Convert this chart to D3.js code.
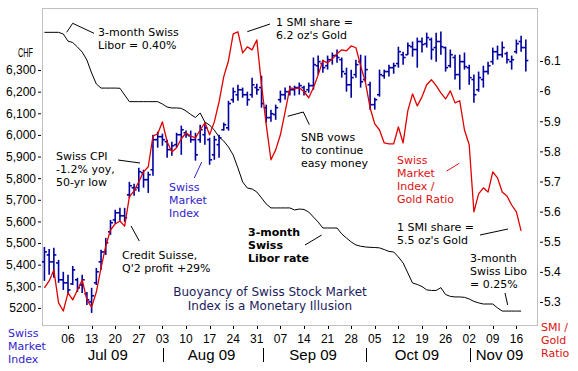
<!DOCTYPE html>
<html>
<head>
<meta charset="utf-8">
<script src="https://cdn.jsdelivr.net/npm/d3@7"></script>
<style>
  body { margin: 0; background: #fff; }
  svg { display: block; font-family: "DejaVu Sans", Verdana, sans-serif; }
</style>
</head>
<body>
<div id="chart"></div>
<script>
// trading days start on Mon 29 Jun 2009, weekends skipped
var firstDay = new Date(2009, 5, 29);
var lastDay = new Date(2009, 10, 18);

// Swiss Market Index, daily bars (CHF)
var smiOpen = [5413,5445,5413,5408,5330,5316,5311,5330,5306,5265,5228,5316,5413,5459,5552,5607,5640,5626,5723,5756,
  5756,5825,5793,5839,5978,5992,5969,5932,5955,6001,6010,5996,5978,5978,6001,5978,5908,5955,6024,6033,
  6163,6186,6209,6186,6186,6219,6219,6126,6080,6094,6163,6186,6200,6209,6219,6219,6209,6228,6320,6330,
  6320,6348,6367,6348,6283,6232,6279,6339,6256,6232,6140,6186,6274,6293,6311,6330,6371,6371,6408,6395,
  6432,6422,6441,6404,6432,6404,6320,6358,6279,6339,6311,6256,6209,6256,6293,6339,6385,6371,6376,6339,
  6385,6432,6404];
var smiHigh = [5482,5473,5478,5422,5367,5353,5394,5339,5353,5274,5293,5385,5469,5524,5607,5654,5663,5663,5783,5774,
  5848,5839,5830,6001,6015,6006,5978,5969,6010,6043,6020,6020,6010,6047,6057,5987,5996,6001,6057,6158,
  6219,6232,6219,6200,6265,6237,6274,6140,6117,6140,6205,6219,6228,6228,6242,6228,6242,6358,6367,6348,
  6367,6381,6395,6358,6311,6302,6348,6371,6367,6246,6172,6302,6302,6325,6334,6408,6385,6427,6432,6450,
  6450,6473,6450,6473,6478,6408,6395,6371,6371,6381,6325,6279,6293,6320,6339,6404,6413,6432,6385,6367,
  6441,6459,6441];
var smiLow = [5325,5353,5339,5316,5283,5265,5306,5274,5269,5214,5177,5306,5376,5445,5538,5589,5603,5598,5709,5719,
  5737,5756,5732,5811,5941,5950,5895,5904,5941,5908,5987,5964,5881,5964,5955,5862,5885,5895,6020,6020,
  6149,6158,6172,6135,6172,6186,6126,6057,6061,6070,6149,6163,6182,6182,6186,6182,6195,6209,6279,6288,
  6302,6325,6334,6265,6200,6172,6265,6219,6246,6117,6117,6177,6260,6270,6283,6311,6325,6371,6362,6311,
  6381,6404,6348,6339,6371,6293,6311,6256,6209,6302,6232,6149,6200,6219,6279,6325,6348,6358,6330,6302,
  6376,6385,6293];
var smiClose = [5459,5413,5445,5330,5316,5283,5376,5293,5330,5237,5256,5367,5459,5501,5594,5640,5626,5617,5765,5746,
  5830,5793,5816,5978,5992,5978,5932,5950,6001,6024,6001,5978,5908,6024,6033,5885,5978,5987,6047,6145,
  6200,6209,6186,6163,6232,6209,6145,6080,6098,6126,6186,6200,6209,6219,6228,6200,6228,6325,6339,6311,
  6348,6367,6358,6293,6232,6265,6325,6246,6302,6140,6163,6279,6293,6311,6320,6385,6358,6413,6395,6432,
  6418,6450,6395,6432,6408,6311,6371,6279,6339,6316,6265,6186,6265,6293,6320,6385,6371,6404,6348,6348,
  6422,6404,6344];

// SMI / gold ratio (oz of gold per SMI share)
var smiGold = [5.347,5.370,5.406,5.297,5.270,5.330,5.307,5.340,5.373,5.307,
  5.283,5.333,5.413,5.486,5.539,5.559,5.569,5.552,5.649,5.669,
  5.699,5.732,5.749,5.851,5.858,5.898,5.832,5.798,5.812,5.842,
  5.861,5.851,5.845,5.871,5.895,5.855,5.898,5.964,6.048,6.101,
  6.190,6.197,6.127,6.147,6.137,6.170,6.021,5.888,5.772,5.805,
  5.855,5.931,6.011,6.008,6.011,5.998,5.978,6.011,6.054,6.101,
  6.094,6.107,6.124,6.137,6.134,6.150,6.144,6.084,6.031,5.945,
  5.891,5.871,5.828,5.825,5.825,5.881,5.828,5.935,5.991,5.951,
  5.981,6.021,6.038,6.018,5.994,5.974,6.001,5.961,5.968,5.871,
  5.822,5.599,5.659,5.679,5.665,5.732,5.712,5.665,5.652,5.622,
  5.599,5.536];

// 3-month Swiss Libor (%), drawn on a hidden scale
var libor = [0.4000,0.4000,0.4000,0.4000,0.3991,0.3953,0.3945,0.3921,0.3894,0.3851,
  0.3781,0.3722,0.3700,0.3700,0.3700,0.3700,0.3699,0.3663,0.3627,0.3627,
  0.3627,0.3627,0.3627,0.3627,0.3627,0.3614,0.3598,0.3593,0.3593,0.3591,
  0.3577,0.3558,0.3542,0.3566,0.3517,0.3501,0.3474,0.3437,0.3415,0.3383,
  0.3340,0.3270,0.3195,0.3162,0.3157,0.3141,0.3109,0.3076,0.3055,0.3055,
  0.3055,0.3055,0.3055,0.3044,0.3049,0.3047,0.3033,0.3006,0.2979,0.2947,
  0.2947,0.2947,0.2947,0.2915,0.2893,0.2872,0.2856,0.2849,0.2845,0.2843,
  0.2842,0.2840,0.2831,0.2821,0.2818,0.2791,0.2759,0.2705,0.2651,0.2643,
  0.2632,0.2614,0.2611,0.2611,0.2626,0.2589,0.2579,0.2576,0.2576,0.2574,
  0.2565,0.2552,0.2544,0.2538,0.2538,0.2538,0.2517,0.2500,0.2500,0.2500,
  0.2500,0.2500];

var leftTicks = [5200,5300,5400,5500,5600,5700,5800,5900,6000,6100,6200,6300];
var leftLabels = ["5200","5,300","5,400","5,500","5,600","5,700","5,800","5,900","6,000","6,100","6,200","6,300"];
var rightTicks = [5.3,5.4,5.5,5.6,5.7,5.8,5.9,6.0,6.1];
var rightLabels = ["5.3","5.4","5.5","5.6","5.7","5.8","5.9","6","6.1"];

var notes = [
  {lines: ["3-month Swiss", "Libor = 0.40%"], x: 98, y: 36, color: "#000"},
  {lines: ["1 SMI share =", "6.2 oz's Gold"], x: 276, y: 26, color: "#000"},
  {lines: ["Swiss CPI", "-1.2% yoy,", "50-yr low"], x: 56, y: 160, color: "#000"},
  {lines: ["Swiss", "Market", "Index"], x: 169, y: 191, color: "#3322cc"},
  {lines: ["Credit Suisse,", "Q'2 profit +29%"], x: 122, y: 259, color: "#000"},
  {lines: ["SNB vows", "to continue", "easy money"], x: 301, y: 141, color: "#000"},
  {lines: ["3-month", "Swiss", "Libor rate"], x: 248, y: 236, color: "#000", bold: true},
  {lines: ["Swiss", "Market", "Index /", "Gold Ratio"], x: 397, y: 164, color: "#dd1111"},
  {lines: ["1 SMI share =", "5.5 oz's Gold"], x: 397, y: 231, color: "#000"},
  {lines: ["3-month", "Swiss Libo", "= 0.25%"], x: 470, y: 262, color: "#000"},
  {lines: ["Buoyancy of Swiss Stock Market", "Index is a Monetary Illusion"], x: 270, y: 296, color: "#1c1c5c", anchor: "middle", size: 12, lh: 13.5},
  {lines: ["Swiss", "Market", "Index"], x: 8, y: 337, color: "#3322cc"},
  {lines: ["SMI /", "Gold", "Ratio"], x: 541, y: 331, color: "#dd1111"}
];

var leaders = [
  {pts: [[66.7,32.3],[72.7,23.3],[94,33.3]], color: "#000"},
  {pts: [[247.3,31.7],[270,24]], color: "#000"},
  {pts: [[118,160],[140,163]], color: "#000"},
  {pts: [[194.3,178],[201.7,162]], color: "#3322cc"},
  {pts: [[131,226],[139.3,241]], color: "#000"},
  {pts: [[287.7,116.3],[303.3,112],[309.3,124.7]], color: "#000"},
  {pts: [[305,245],[321.7,235]], color: "#000"},
  {pts: [[446.7,171],[459.3,163.3]], color: "#dd1111"},
  {pts: [[480,235],[508,229]], color: "#000"},
  {pts: [[505,293],[507.7,305]], color: "#000"}
];

var W = 578, H = 371;
var plot = {left: 43, top: 8, right: 538, bottom: 325};

var days = d3.timeDay.range(firstDay, d3.timeDay.offset(lastDay, 1))
  .filter(function(d) { return d.getDay() !== 0 && d.getDay() !== 6; });

var svg = d3.select("#chart").append("svg")
  .attr("width", W)
  .attr("height", H);

var x = d3.scaleLinear().domain([-0.3, 104.58]).range([plot.left, plot.right]);
var yL = d3.scaleLinear().domain([5121, 6587]).range([plot.bottom, plot.top]);
var yR = d3.scaleLinear().domain([5.2236, 6.276]).range([plot.bottom, plot.top]);
var yLib = d3.scaleLinear().domain([0.2425, 0.4131]).range([plot.bottom, plot.top]);

// frame
svg.append("rect")
  .attr("x", plot.left - 0.5)
  .attr("y", plot.top + 0.5)
  .attr("width", plot.right - plot.left)
  .attr("height", plot.bottom - plot.top)
  .attr("fill", "none")
  .attr("stroke", "#c0c0c0");

// left axis
var gL = svg.append("g")
  .attr("transform", "translate(41,0)")
  .style("font-family", "'Liberation Sans', Arial, sans-serif")
  .call(d3.axisLeft(yL).tickValues(leftTicks)
    .tickFormat(function(d, i) { return leftLabels[i]; })
    .tickSize(3).tickPadding(2));
gL.select(".domain").remove();
gL.selectAll("text").attr("font-size", 12).attr("fill", "#000");

svg.append("text")
  .attr("x", 18).attr("y", 57)
  .attr("font-family", "'Liberation Sans', Arial, sans-serif")
  .attr("font-size", 12)
  .attr("textLength", 15).attr("lengthAdjust", "spacingAndGlyphs")
  .text("CHF");

// right axis
var gR = svg.append("g")
  .attr("transform", "translate(540,0)")
  .style("font-family", "'Liberation Sans', Arial, sans-serif")
  .call(d3.axisRight(yR).tickValues(rightTicks)
    .tickFormat(function(d, i) { return rightLabels[i]; })
    .tickSize(3).tickPadding(1));
gR.select(".domain").remove();
gR.selectAll("text").attr("font-size", 12).attr("fill", "#000");

// bottom axis: Mondays
var fmtDay = d3.timeFormat("%d");
var mondays = days.map(function(d, i) { return {d: d, i: i}; })
  .filter(function(o) { return o.d.getDay() === 1 && o.d >= new Date(2009, 6, 6); });

var gB = svg.append("g").attr("font-family", "'Liberation Sans', Arial, sans-serif");
gB.selectAll("line.tk").data(mondays).enter().append("line")
  .attr("class", "tk")
  .attr("x1", function(o) { return Math.round(x(o.i)) + 0.5; })
  .attr("x2", function(o) { return Math.round(x(o.i)) + 0.5; })
  .attr("y1", plot.bottom + 1).attr("y2", plot.bottom + 4)
  .attr("stroke", "#000");
gB.selectAll("text.dl").data(mondays).enter().append("text")
  .attr("class", "dl")
  .attr("x", function(o) { return x(o.i); })
  .attr("y", 343)
  .attr("text-anchor", "middle")
  .attr("font-size", 12)
  .text(function(o) { return fmtDay(o.d); });

// month labels and separators
var fmtMonth = d3.timeFormat("%b %y");
var months = d3.groups(days.map(function(d, i) { return {d: d, i: i}; }), function(o) { return o.d.getMonth(); })
  .filter(function(g) { return g[0] >= 6; });
months.forEach(function(g, j) {
  var first = g[1][0].i, last = g[1][g[1].length - 1].i;
  gB.append("text")
    .attr("x", (x(first) + x(last)) / 2 + 2)
    .attr("y", 360)
    .attr("text-anchor", "middle")
    .attr("font-size", 15)
    .text(fmtMonth(g[1][0].d));
  if (j > 0) {
    var sx = Math.round(x(first)) + 1.5;
    gB.append("line")
      .attr("x1", sx).attr("x2", sx)
      .attr("y1", 348).attr("y2", 362)
      .attr("stroke", "#000");
  }
});

// libor line
var idx = d3.range(libor.length);
svg.append("path")
  .datum(idx)
  .attr("fill", "none")
  .attr("stroke", "#000")
  .attr("stroke-width", 1)
  .attr("d", d3.line()
    .x(function(i) { return x(i); })
    .y(function(i) { return yLib(libor[i]); }));

// SMI OHLC bars
var bars = svg.append("g").attr("stroke", "#0000a0").attr("stroke-width", 1.6);
var bi = d3.range(smiHigh.length);
bars.selectAll("line.hl").data(bi).enter().append("line")
  .attr("x1", function(i) { return x(i); })
  .attr("x2", function(i) { return x(i); })
  .attr("y1", function(i) { return yL(smiHigh[i]); })
  .attr("y2", function(i) { return yL(smiLow[i]); });
bars.selectAll("line.op").data(bi).enter().append("line")
  .attr("x1", function(i) { return x(i) - 2.5; })
  .attr("x2", function(i) { return x(i); })
  .attr("y1", function(i) { return yL(smiOpen[i]); })
  .attr("y2", function(i) { return yL(smiOpen[i]); });
bars.selectAll("line.cl").data(bi).enter().append("line")
  .attr("x1", function(i) { return x(i); })
  .attr("x2", function(i) { return x(i) + 2.5; })
  .attr("y1", function(i) { return yL(smiClose[i]); })
  .attr("y2", function(i) { return yL(smiClose[i]); });

// SMI / gold ratio
svg.append("path")
  .datum(d3.range(smiGold.length))
  .attr("fill", "none")
  .attr("stroke", "#e00000")
  .attr("stroke-width", 1.3)
  .attr("stroke-linejoin", "round")
  .attr("d", d3.line()
    .x(function(i) { return x(i); })
    .y(function(i) { return yR(smiGold[i]); }));

// annotation leaders
svg.selectAll("polyline.ld").data(leaders).enter().append("polyline")
  .attr("class", "ld")
  .attr("points", function(d) { return d.pts.map(function(p) { return p.join(","); }).join(" "); })
  .attr("fill", "none")
  .attr("stroke", function(d) { return d.color; })
  .attr("stroke-width", 1);

// annotation text, one text element per line
notes.forEach(function(n) {
  n.lines.forEach(function(s, k) {
    svg.append("text")
      .attr("x", n.x)
      .attr("y", n.y + k * (n.lh || 13))
      .attr("fill", n.color)
      .attr("font-size", n.size || 11)
      .attr("font-weight", n.bold ? "bold" : "normal")
      .attr("text-anchor", n.anchor || "start")
      .text(s);
  });
});
</script>
</body>
</html>
